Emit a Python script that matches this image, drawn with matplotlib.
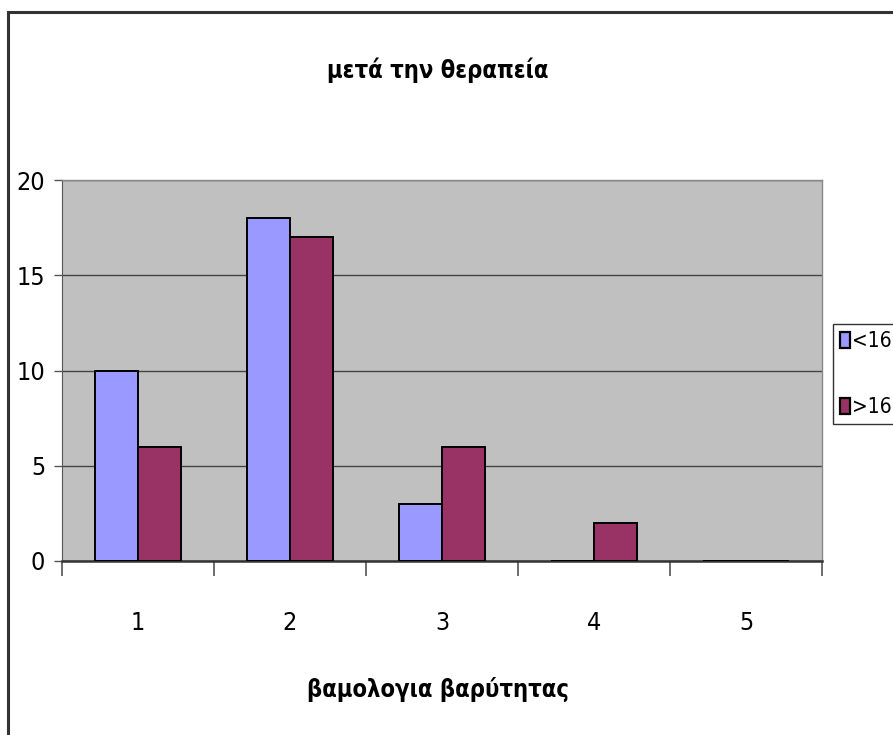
import matplotlib
matplotlib.use("Agg")
import matplotlib.pyplot as plt
import numpy as np
from matplotlib.patches import Rectangle

plt.rcParams['font.family'] = ['DejaVu Sans']
plt.rcParams['font.stretch'] = 'condensed'

# data
scores = ['1', '2', '3', '4', '5']
under_16 = [10, 18, 3, 0, 0]
over_16 = [6, 17, 6, 2, 0]
series_labels = ['<16', '>16']

W, H = 893, 735
fig = plt.figure(figsize=(W / 100, H / 100), dpi=100)

# outer chart border (clipped at right/bottom like the original)
fig.add_artist(Rectangle((8 / W, -0.1), 1.2, (H - 12) / H + 0.1, transform=fig.transFigure,
                         fill=False, edgecolor='#333333', linewidth=2.2))

ax = fig.add_axes([62 / W, (H - 561) / H, (822 - 62) / W, (561 - 180) / H])
ax.set_facecolor('#C0C0C0')

x = np.arange(len(scores))
bw = 1 / 3.5
ax.bar(x - bw / 2, under_16, bw, color='#9999FF', edgecolor='black', linewidth=1.4,
       label=series_labels[0], zorder=3)
ax.bar(x + bw / 2, over_16, bw, color='#993366', edgecolor='black', linewidth=1.4,
       label=series_labels[1], zorder=3)

ax.set_xlim(-0.5, len(scores) - 0.5)
ax.set_ylim(0, 20)
ax.set_yticks([0, 5, 10, 15, 20])
ax.yaxis.grid(True, color='#444444', linewidth=1.0, zorder=1)
ax.set_axisbelow(True)

ax.set_xticks(np.arange(len(scores) + 1) - 0.5)
ax.set_xticklabels([])
ax.set_xticks(x, minor=True)
ax.set_xticklabels(scores, minor=True)
ax.tick_params(axis='x', which='major', length=11, width=1.2, color='#555555')
ax.tick_params(axis='x', which='minor', length=0, labelsize=18, pad=36)
ax.tick_params(axis='y', length=6, width=1.0, color='#555555', labelsize=18, pad=6)

for side in ['top', 'right']:
    ax.spines[side].set_color('#888888')
    ax.spines[side].set_linewidth(1.0)
ax.spines['left'].set_color('#555555')
ax.spines['bottom'].set_color('#333333')
ax.spines['bottom'].set_linewidth(1.8)

fig.text(0.5 * (62 + 822) / W - 0.005, 1 - 70 / H, 'μετά την θεραπεία', ha='center', va='center',
         fontsize=17, fontweight='bold')
fig.text(0.5 * (62 + 822) / W - 0.005, 1 - 689 / H, 'βαμολογια βαρύτητας', ha='center', va='center',
         fontsize=17, fontweight='bold')

leg = fig.legend(loc='upper left', bbox_to_anchor=(833 / W, 1 - 324 / H), frameon=True,
                 fancybox=False, edgecolor='black', fontsize=15, handlelength=0.45,
                 handleheight=0.85, handletextpad=0.1, labelspacing=2.2, borderpad=0.35,
                 borderaxespad=0)
leg.get_frame().set_linewidth(1.0)
for h in leg.legend_handles:
    h.set_linewidth(1.6)

fig.savefig('out.png', dpi=100)
